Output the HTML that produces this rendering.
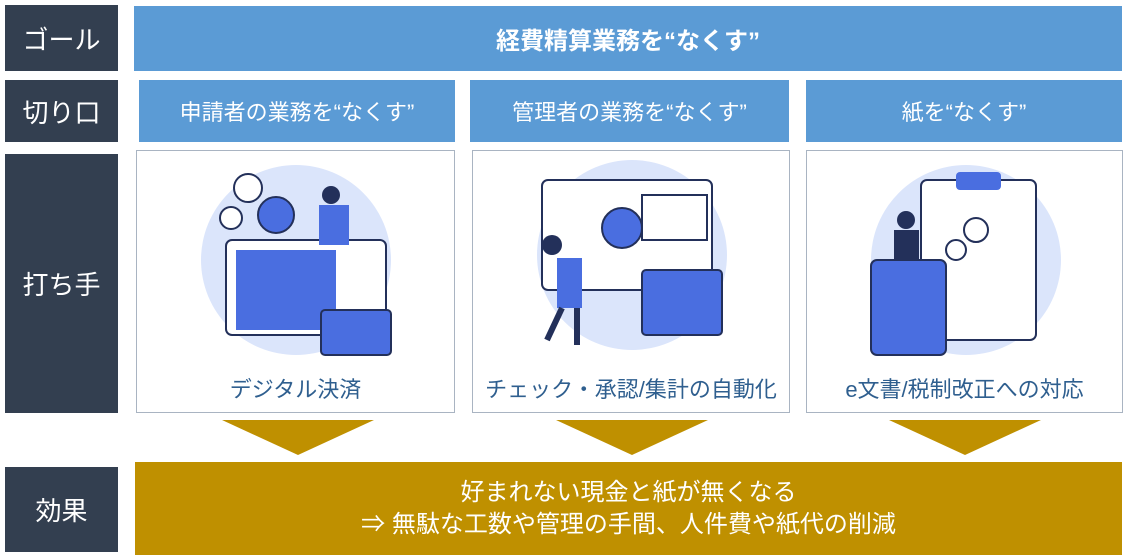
<!DOCTYPE html>
<html><head><meta charset="utf-8"><style>
body{margin:0;width:1131px;height:555px;background:#fff;position:relative;overflow:hidden;font-family:"Liberation Sans","Noto Sans CJK JP",sans-serif}
.a{position:absolute;display:flex;align-items:center;justify-content:center;box-sizing:border-box}
.d{background:#333f50;color:#fff;font-size:26px;left:5px;width:113px}
.b{background:#5b9bd5;color:#fff;font-size:22px}
.c{border:1px solid #a9b4c2;background:#fff;align-items:flex-end;padding-bottom:8px;color:#2f5f8f;font-size:22px}
.t{position:absolute;width:0;height:0;border-left:76px solid transparent;border-right:76px solid transparent;border-top:35px solid #bf9000;top:420px}
svg{position:absolute}
</style></head><body>
<div class="a d" style="top:5px;height:66px">ゴール</div>
<div class="a d" style="top:80px;height:62px">切り口</div>
<div class="a d" style="top:154px;height:259px">打ち手</div>
<div class="a d" style="top:467px;height:85px">効果</div>
<div class="a b" style="left:134px;top:6px;width:988px;height:65px;font-weight:bold;font-size:24px">経費精算業務を“なくす”</div>
<div class="a b" style="left:139px;top:80px;width:316px;height:62px">申請者の業務を“なくす”</div>
<div class="a b" style="left:470px;top:80px;width:319px;height:62px">管理者の業務を“なくす”</div>
<div class="a b" style="left:806px;top:80px;width:316px;height:62px">紙を“なくす”</div>
<div class="a c" style="left:136px;top:150px;width:319px;height:263px">デジタル決済</div>
<div class="a c" style="left:472px;top:150px;width:318px;height:263px">チェック・承認/集計の自動化</div>
<div class="a c" style="left:806px;top:150px;width:317px;height:263px">e文書/税制改正への対応</div>
<svg style="left:136px;top:150px" width="319" height="215"><circle cx="160" cy="110" r="95" fill="#dbe5fb"/><rect x="90" y="90" width="160" height="95" rx="6" fill="#fff" stroke="#23305a" stroke-width="2"/><rect x="100" y="100" width="100" height="80" fill="#4a6ee0"/><rect x="185" y="160" width="70" height="45" rx="4" fill="#4a6ee0" stroke="#23305a" stroke-width="2"/><circle cx="112" cy="38" r="14" fill="#fff" stroke="#23305a" stroke-width="2"/><circle cx="140" cy="65" r="18" fill="#4a6ee0" stroke="#23305a" stroke-width="2"/><circle cx="95" cy="68" r="11" fill="#fff" stroke="#23305a" stroke-width="2"/><circle cx="195" cy="45" r="9" fill="#23305a"/><rect x="183" y="55" width="30" height="40" fill="#4a6ee0"/></svg>
<svg style="left:472px;top:150px" width="318" height="215"><circle cx="160" cy="105" r="95" fill="#dbe5fb"/><rect x="70" y="30" width="170" height="110" rx="6" fill="#fff" stroke="#23305a" stroke-width="2"/><rect x="170" y="45" width="65" height="45" fill="#fff" stroke="#23305a" stroke-width="2"/><circle cx="150" cy="78" r="20" fill="#4a6ee0" stroke="#23305a" stroke-width="2"/><rect x="170" y="120" width="80" height="65" rx="4" fill="#4a6ee0" stroke="#23305a" stroke-width="2"/><circle cx="80" cy="95" r="10" fill="#23305a"/><rect x="85" y="108" width="25" height="50" fill="#4a6ee0"/><path d="M90 158 L75 190 M105 158 L105 195" stroke="#23305a" stroke-width="6"/></svg>
<svg style="left:806px;top:150px" width="317" height="215"><circle cx="160" cy="110" r="95" fill="#dbe5fb"/><rect x="115" y="30" width="115" height="160" rx="6" fill="#fff" stroke="#23305a" stroke-width="2"/><rect x="150" y="22" width="45" height="18" rx="4" fill="#4a6ee0"/><rect x="65" y="110" width="75" height="95" rx="6" fill="#4a6ee0" stroke="#23305a" stroke-width="2"/><circle cx="170" cy="80" r="12" fill="#fff" stroke="#23305a" stroke-width="2"/><circle cx="150" cy="100" r="10" fill="#fff" stroke="#23305a" stroke-width="2"/><circle cx="100" cy="70" r="9" fill="#23305a"/><rect x="88" y="80" width="25" height="30" fill="#23305a"/></svg>
<div class="t" style="left:222px"></div>
<div class="t" style="left:556px"></div>
<div class="t" style="left:889px"></div>
<div class="a" style="left:135px;top:462px;width:987px;height:93px;background:#bf9000;color:#fff;font-size:24px;flex-direction:column;line-height:32px">
<div>好まれない現金と紙が無くなる</div><div>⇒ 無駄な工数や管理の手間、人件費や紙代の削減</div></div>
</body></html>
